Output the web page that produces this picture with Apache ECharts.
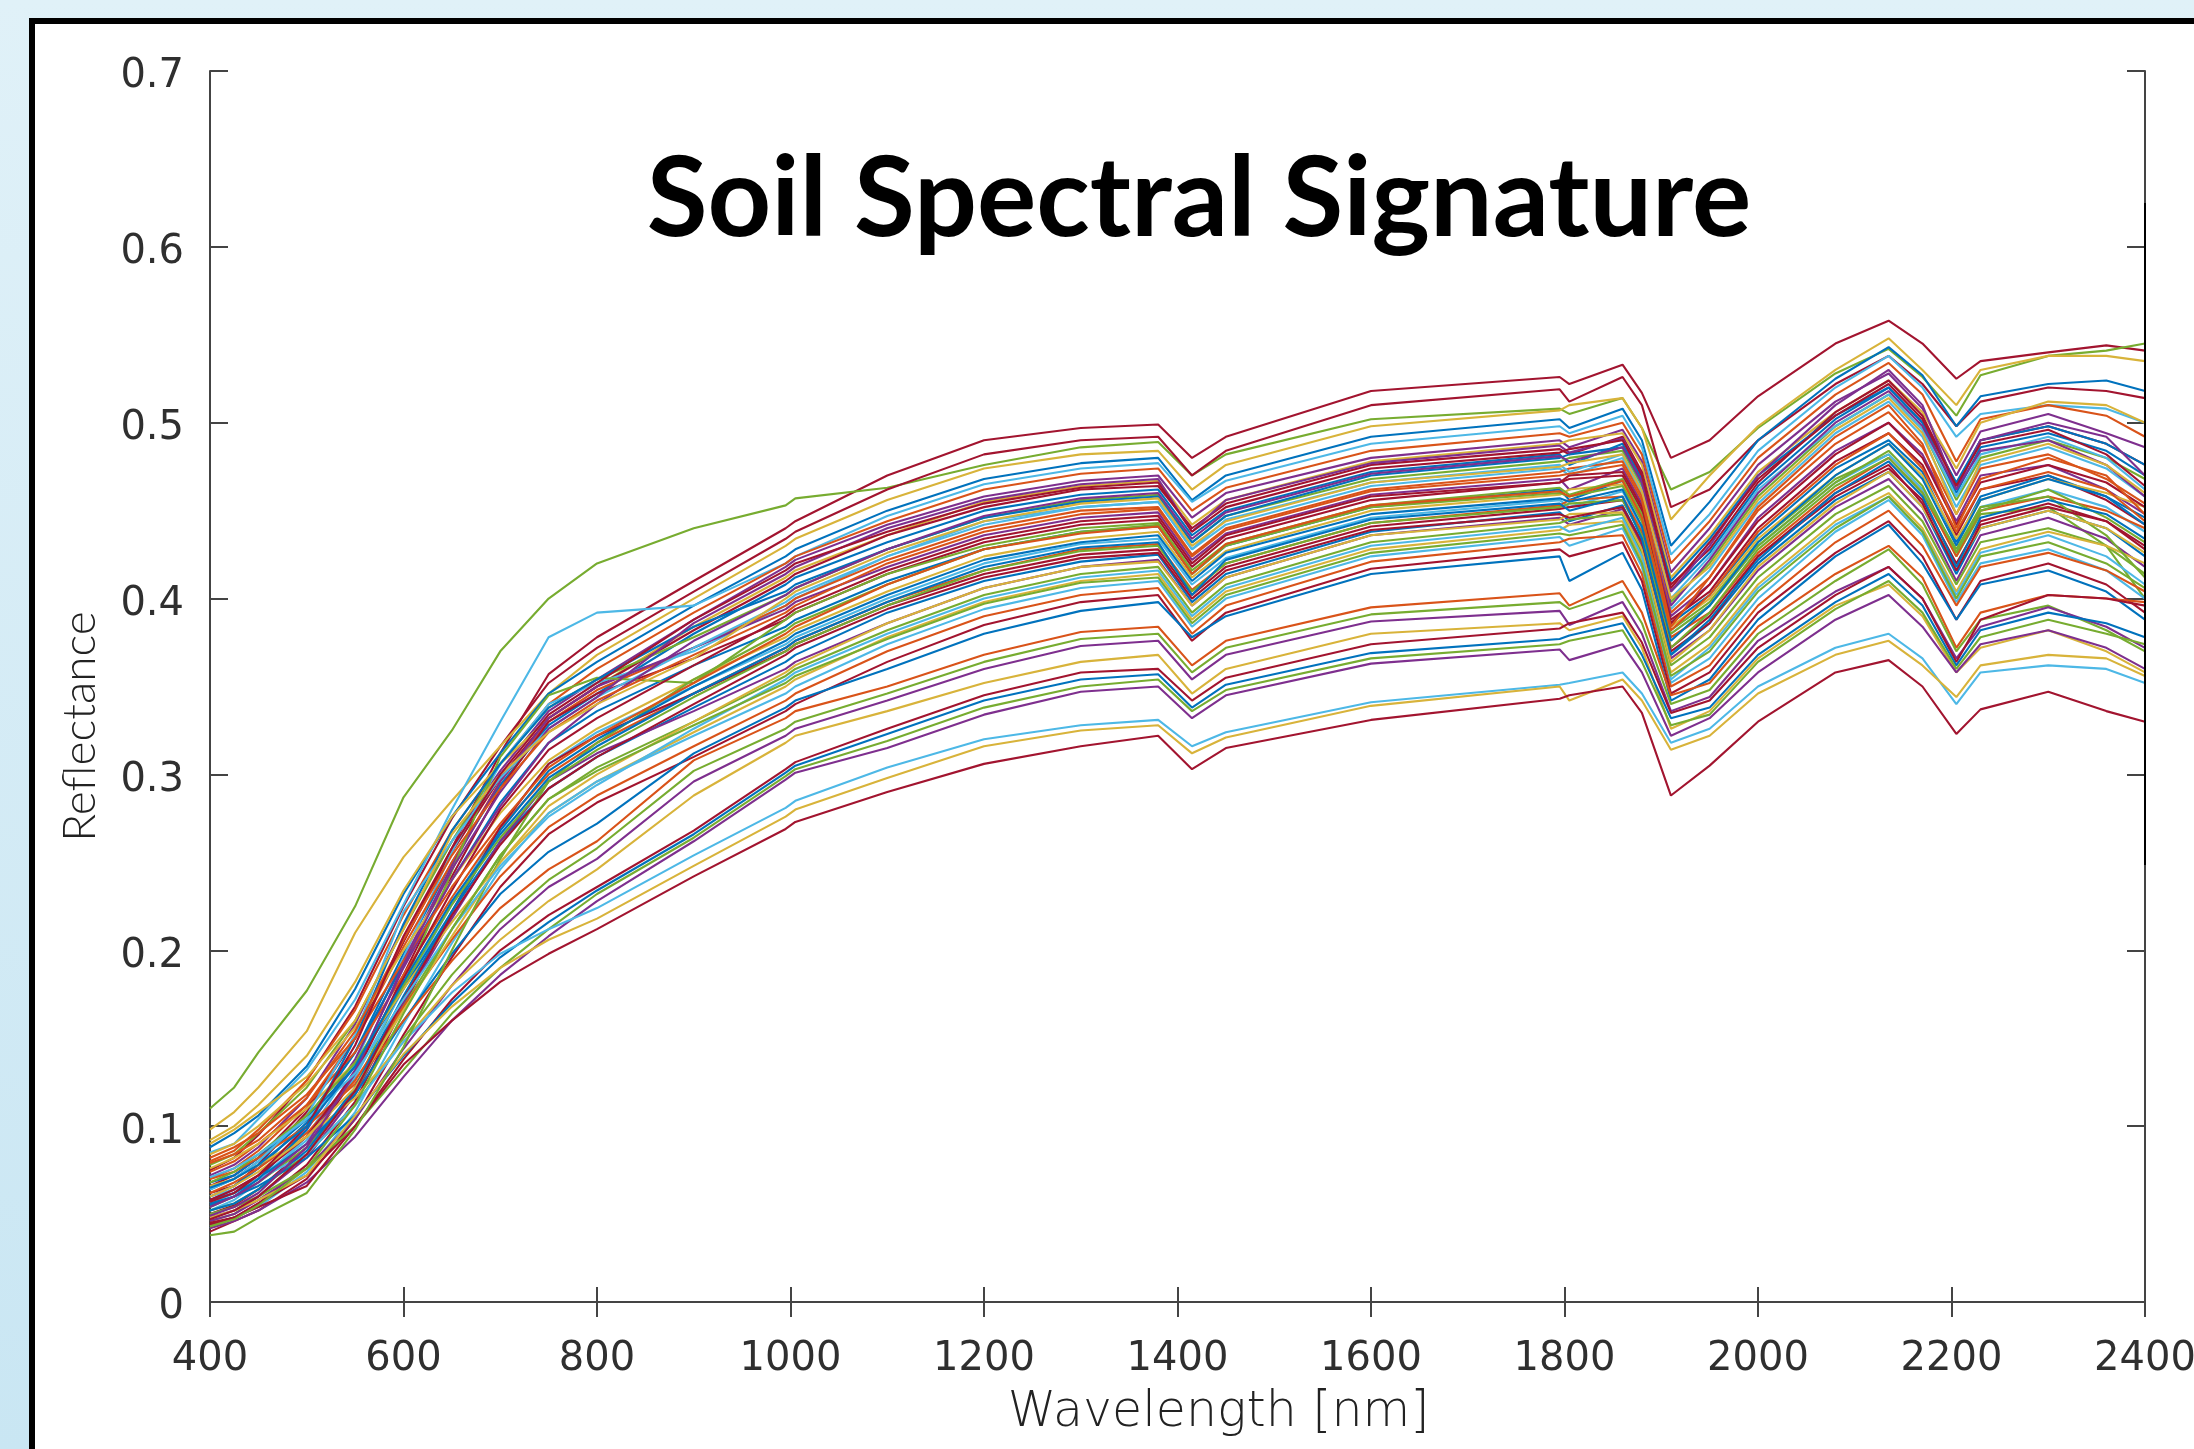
<!DOCTYPE html>
<html><head><meta charset="utf-8">
<script src="https://cdn.jsdelivr.net/npm/echarts@6/dist/echarts.min.js"></script>
<style>
html,body{margin:0;padding:0;width:2194px;height:1449px;overflow:hidden;background:linear-gradient(180deg,#e0f1f8 0%,#c9e6f3 100%);}
#frame{position:absolute;left:29px;top:18px;width:2165px;height:1431px;box-sizing:border-box;background:#fff;border-left:6px solid #000;border-top:6px solid #000;}
#chart{position:absolute;left:0;top:0;width:2194px;height:1449px;}
</style></head><body>
<div id="frame"></div><div id="chart"></div>
<script>
const wavelengths=[400,425,450,500,550,600,650,700,750,800,900,995,1005,1100,1200,1300,1380,1415,1450,1600,1795,1805,1860,1880,1910,1950,2000,2080,2135,2170,2205,2230,2300,2360,2400];
const xTicks=[400,600,800,1000,1200,1400,1600,1800,2000,2200,2400];
const yTicks=[0,0.1,0.2,0.3,0.4,0.5,0.6,0.7];
const s01=[.062,.066,.078,.108,.150,.205,.258,.312,.357,.378,.410,.440,.444,.470,.490,.497,.499,.480,.492,.518,.526,.522,.533,.517,.480,.490,.515,.545,.558,.545,.525,.535,.540,.544,.541];
const s02=[.110,.122,.142,.177,.225,.287,.325,.370,.400,.420,.440,.453,.457,.463,.476,.486,.489,.470,.482,.502,.508,.505,.514,.497,.462,.472,.497,.528,.542,.526,.504,.527,.538,.541,.545];
const s03=[.075,.082,.095,.126,.168,.225,.275,.316,.352,.372,.404,.434,.438,.462,.482,.490,.492,.470,.484,.510,.519,.512,.526,.510,.452,.462,.490,.522,.538,.522,.498,.512,.520,.518,.514];
const s04=[.098,.108,.122,.154,.210,.253,.285,.316,.346,.368,.400,.430,.434,.456,.474,.482,.484,.462,.476,.498,.507,.510,.514,.497,.445,.470,.498,.530,.548,.530,.510,.530,.538,.538,.535];
const s05=[.088,.096,.106,.134,.178,.232,.276,.312,.346,.364,.396,.424,.428,.450,.468,.477,.480,.456,.470,.492,.502,.497,.508,.490,.430,.455,.490,.525,.543,.527,.498,.515,.522,.524,.518];
const s06=[.085,.090,.104,.132,.172,.226,.280,.330,.378,.392,.396,.420,.424,.447,.465,.474,.477,.455,.467,.488,.498,.494,.504,.486,.425,.448,.484,.520,.538,.520,.492,.505,.510,.508,.500];
const s07=[.080,.086,.098,.126,.166,.220,.268,.306,.340,.360,.392,.420,.424,.444,.462,.471,.474,.450,.463,.484,.494,.492,.500,.482,.420,.444,.480,.516,.534,.516,.478,.502,.510,.504,.492];
const s08=[.072,.078,.088,.116,.158,.214,.262,.302,.336,.354,.388,.418,.422,.442,.458,.467,.470,.446,.460,.480,.490,.486,.496,.478,.415,.440,.476,.512,.528,.508,.470,.495,.505,.494,.486];
const s09=[.092,.100,.112,.140,.182,.234,.276,.306,.332,.350,.384,.412,.416,.436,.455,.464,.467,.442,.456,.478,.488,.490,.494,.476,.412,.436,.472,.506,.524,.506,.474,.500,.512,.510,.500];
const s10=[.066,.072,.082,.110,.150,.205,.256,.298,.332,.350,.382,.410,.414,.436,.452,.462,.464,.440,.454,.476,.485,.482,.492,.472,.408,.428,.466,.506,.524,.504,.465,.490,.498,.488,.476];
const s11=[.060,.066,.076,.102,.142,.198,.250,.294,.328,.346,.380,.408,.412,.432,.450,.459,.462,.436,.450,.472,.482,.476,.488,.468,.404,.426,.464,.502,.520,.500,.460,.486,.494,.484,.470];
const s12=[.078,.084,.096,.122,.160,.212,.262,.306,.338,.354,.378,.402,.406,.428,.446,.456,.459,.432,.447,.468,.478,.480,.484,.464,.398,.420,.458,.498,.516,.496,.456,.480,.490,.480,.468];
const s13=[.052,.058,.068,.094,.136,.196,.256,.306,.340,.352,.370,.396,.400,.424,.444,.452,.455,.428,.442,.464,.474,.470,.480,.460,.394,.416,.454,.494,.512,.492,.452,.476,.486,.474,.458];
const s14=[.070,.076,.086,.112,.150,.202,.250,.296,.330,.348,.372,.396,.400,.422,.440,.450,.452,.425,.440,.462,.472,.474,.478,.458,.392,.412,.450,.488,.506,.486,.448,.474,.482,.468,.454];
const s15=[.058,.064,.072,.098,.138,.194,.248,.296,.332,.350,.372,.394,.398,.418,.436,.446,.449,.422,.437,.459,.468,.462,.474,.454,.390,.408,.446,.484,.500,.482,.444,.470,.476,.462,.448];
const s16=[.050,.055,.064,.088,.128,.186,.242,.292,.330,.346,.366,.388,.392,.414,.432,.442,.445,.418,.434,.456,.466,.468,.470,.450,.388,.404,.440,.478,.494,.476,.436,.462,.470,.456,.442];
const s17=[.064,.070,.080,.104,.142,.192,.240,.284,.318,.336,.362,.384,.388,.410,.428,.438,.441,.414,.430,.452,.462,.456,.467,.447,.386,.402,.436,.474,.490,.472,.432,.458,.470,.458,.446];
const s18=[.084,.090,.100,.124,.156,.200,.240,.278,.308,.326,.354,.378,.382,.404,.424,.434,.438,.412,.427,.450,.459,.462,.465,.444,.384,.400,.434,.470,.488,.470,.434,.456,.468,.460,.452];
const s19=[.046,.050,.060,.084,.122,.180,.245,.310,.345,.355,.352,.388,.392,.414,.430,.440,.443,.416,.431,.453,.463,.459,.468,.448,.382,.398,.432,.468,.482,.462,.424,.448,.452,.430,.400];
const s20=[.056,.062,.070,.092,.128,.178,.226,.270,.306,.324,.350,.374,.378,.400,.420,.431,.434,.408,.423,.446,.456,.452,.461,.440,.380,.396,.430,.466,.482,.462,.426,.452,.462,.452,.438];
const s21=[.074,.080,.090,.112,.142,.186,.230,.270,.300,.318,.346,.372,.376,.398,.416,.428,.431,.405,.420,.443,.453,.456,.458,.438,.378,.392,.426,.462,.480,.460,.424,.450,.458,.450,.440];
const s22=[.044,.048,.056,.078,.114,.168,.222,.270,.306,.322,.346,.370,.374,.396,.414,.425,.428,.402,.418,.441,.451,.452,.456,.436,.372,.390,.424,.458,.474,.456,.420,.444,.454,.444,.428];
const s23=[.068,.072,.082,.104,.134,.178,.222,.262,.292,.310,.338,.364,.368,.392,.410,.421,.425,.398,.414,.438,.449,.444,.453,.432,.368,.386,.420,.456,.472,.452,.414,.440,.450,.440,.424];
const s24=[.048,.052,.060,.082,.118,.170,.218,.262,.296,.312,.336,.360,.364,.386,.406,.418,.422,.396,.412,.436,.446,.442,.451,.430,.366,.382,.416,.452,.468,.448,.410,.436,.446,.434,.418];
const s25=[.054,.060,.068,.088,.120,.168,.212,.254,.286,.304,.330,.356,.360,.382,.402,.414,.418,.392,.408,.432,.443,.445,.448,.426,.362,.378,.412,.448,.464,.444,.408,.432,.440,.430,.414];
const s26=[.076,.082,.090,.110,.136,.178,.216,.250,.278,.296,.324,.350,.354,.378,.398,.410,.414,.388,.404,.428,.439,.442,.444,.422,.358,.374,.408,.444,.460,.440,.404,.428,.438,.430,.420];
const s27=[.042,.048,.054,.074,.108,.158,.204,.246,.278,.296,.322,.346,.350,.374,.394,.406,.410,.384,.400,.424,.435,.430,.440,.418,.352,.366,.400,.438,.456,.436,.398,.420,.428,.416,.400];
const s28=[.062,.068,.076,.096,.126,.168,.206,.242,.270,.288,.316,.342,.346,.370,.390,.402,.406,.380,.396,.421,.432,.434,.436,.414,.350,.362,.396,.432,.450,.430,.396,.418,.426,.416,.404];
const s29=[.040,.046,.052,.070,.104,.152,.196,.236,.266,.284,.310,.336,.340,.364,.385,.398,.402,.376,.392,.417,.428,.424,.432,.410,.346,.358,.392,.426,.444,.424,.388,.410,.420,.408,.392];
const s30=[.058,.062,.070,.090,.118,.160,.198,.232,.256,.272,.312,.338,.342,.360,.380,.393,.398,.378,.390,.414,.424,.410,.426,.405,.342,.354,.388,.424,.442,.420,.388,.408,.416,.404,.388];
const s31=[.070,.074,.082,.100,.124,.160,.194,.224,.246,.262,.308,.332,.336,.350,.368,.381,.384,.362,.376,.395,.403,.396,.410,.392,.345,.352,.384,.414,.430,.412,.372,.392,.402,.400,.398];
const s32=[.052,.056,.064,.084,.112,.150,.186,.216,.240,.258,.302,.326,.330,.346,.364,.377,.380,.358,.372,.391,.398,.394,.404,.386,.340,.348,.380,.410,.428,.408,.370,.388,.396,.382,.370];
const s33=[.046,.050,.058,.076,.104,.144,.180,.212,.236,.252,.296,.322,.326,.342,.360,.373,.376,.354,.368,.387,.393,.385,.398,.380,.336,.344,.376,.404,.418,.400,.366,.384,.395,.384,.372];
const s34=[.066,.070,.078,.094,.116,.148,.180,.206,.228,.246,.288,.318,.322,.336,.352,.364,.368,.346,.360,.380,.386,.382,.390,.372,.326,.336,.366,.396,.408,.390,.358,.372,.382,.370,.358];
const s35=[.044,.048,.056,.072,.100,.138,.172,.200,.220,.236,.268,.303,.307,.326,.345,.358,.360,.342,.355,.374,.383,.386,.392,.375,.335,.342,.372,.402,.418,.400,.364,.388,.402,.400,.396];
const s36=[.056,.060,.066,.082,.106,.140,.170,.196,.216,.234,.266,.301,.305,.323,.342,.354,.357,.338,.351,.369,.377,.379,.386,.368,.332,.338,.368,.398,.414,.396,.362,.382,.392,.386,.378];
const s37=[.050,.054,.060,.076,.100,.132,.164,.190,.212,.232,.264,.299,.303,.319,.338,.350,.354,.336,.348,.366,.374,.376,.382,.364,.328,.334,.364,.394,.410,.392,.360,.378,.388,.380,.374];
const s38=[.042,.046,.052,.068,.094,.128,.160,.186,.208,.228,.262,.297,.301,.315,.334,.347,.350,.332,.345,.363,.371,.365,.374,.358,.322,.332,.358,.388,.402,.384,.358,.374,.382,.372,.360];
const s39=[.060,.064,.070,.084,.112,.148,.176,.198,.212,.224,.254,.281,.285,.304,.320,.328,.331,.316,.324,.341,.351,.352,.358,.346,.318,.326,.350,.372,.380,.366,.340,.358,.362,.360,.352];
const s40=[.048,.052,.058,.072,.106,.141,.168,.190,.206,.218,.248,.276,.280,.298,.316,.325,.328,.312,.321,.339,.350,.342,.354,.342,.314,.322,.346,.368,.376,.362,.344,.362,.368,.366,.356];
const s41=[.045,.048,.054,.066,.100,.135,.160,.182,.198,.212,.242,.269,.273,.290,.306,.316,.322,.303,.315,.331,.343,.345,.350,.335,.288,.305,.330,.358,.365,.350,.323,.337,.347,.336,.330];
const s42=[.038,.040,.048,.062,.098,.145,.200,.252,.296,.318,.354,.382,.386,.408,.428,.438,.442,.414,.430,.452,.460,.458,.464,.444,.380,.396,.430,.466,.484,.464,.426,.450,.462,.446,.432];
const s43=[.055,.060,.070,.098,.150,.215,.268,.306,.338,.354,.384,.404,.408,.428,.446,.455,.458,.432,.447,.470,.480,.482,.486,.466,.410,.434,.470,.504,.520,.500,.466,.490,.498,.488,.476];
const s44=[.064,.070,.080,.106,.152,.222,.262,.298,.326,.344,.372,.398,.402,.424,.442,.452,.455,.428,.445,.466,.476,.472,.482,.462,.400,.424,.462,.498,.516,.496,.458,.482,.492,.480,.462];
const s45=[.054,.060,.068,.090,.132,.190,.240,.282,.318,.340,.376,.402,.406,.428,.447,.457,.460,.434,.449,.471,.481,.478,.486,.466,.396,.422,.460,.500,.518,.498,.462,.484,.490,.476,.458];
const s46=[.058,.064,.072,.094,.130,.184,.234,.280,.314,.332,.362,.390,.394,.416,.434,.444,.447,.420,.436,.458,.466,.470,.472,.452,.386,.408,.444,.482,.500,.480,.442,.466,.476,.466,.452];
const s47=[.082,.088,.096,.118,.150,.194,.236,.272,.304,.322,.352,.380,.384,.408,.428,.437,.441,.414,.431,.453,.461,.458,.467,.446,.382,.402,.438,.476,.494,.474,.438,.462,.472,.462,.444];
const s48=[.052,.056,.064,.086,.122,.174,.222,.268,.302,.320,.350,.376,.380,.402,.422,.432,.436,.410,.426,.448,.457,.455,.462,.441,.376,.396,.432,.470,.488,.468,.430,.456,.468,.458,.442];
const s49=[.068,.074,.084,.106,.136,.180,.226,.264,.296,.314,.344,.370,.374,.396,.416,.427,.430,.404,.420,.443,.452,.454,.456,.436,.372,.392,.428,.464,.480,.460,.428,.452,.458,.436,.412];
const s50=[.060,.066,.074,.094,.122,.166,.208,.250,.282,.300,.330,.358,.362,.386,.406,.418,.421,.396,.412,.436,.445,.448,.449,.428,.364,.382,.418,.454,.472,.452,.418,.440,.450,.440,.426];
const s51=[.049,.054,.062,.088,.130,.192,.246,.290,.326,.344,.386,.414,.418,.440,.456,.465,.468,.438,.456,.477,.487,.483,.491,.470,.404,.430,.470,.510,.530,.510,.462,.490,.500,.492,.470];
const s52=[.079,.084,.092,.116,.154,.206,.254,.292,.324,.342,.368,.392,.396,.420,.438,.448,.451,.424,.439,.461,.470,.471,.476,.456,.384,.412,.452,.492,.510,.488,.440,.468,.480,.470,.448];
const s53=[.047,.052,.060,.084,.120,.172,.220,.260,.292,.310,.340,.368,.372,.394,.412,.423,.426,.400,.416,.439,.448,.446,.452,.432,.370,.386,.424,.460,.476,.454,.416,.442,.452,.444,.430];
const s54=[.071,.076,.084,.104,.130,.172,.212,.248,.276,.294,.326,.354,.358,.380,.400,.412,.416,.390,.406,.430,.441,.438,.446,.424,.354,.372,.406,.442,.458,.438,.402,.426,.436,.424,.408];
const s55=[.043,.047,.055,.076,.112,.164,.212,.254,.286,.302,.328,.352,.356,.377,.397,.409,.412,.386,.402,.426,.437,.436,.442,.420,.356,.370,.404,.440,.458,.438,.400,.424,.432,.420,.406];
const s56=[.090,.098,.108,.128,.160,.212,.266,.300,.324,.340,.366,.400,.404,.426,.444,.454,.457,.430,.444,.466,.475,.477,.482,.461,.400,.418,.456,.496,.514,.494,.448,.478,.488,.476,.460];
const s57=[.057,.062,.072,.100,.146,.208,.258,.300,.334,.352,.388,.416,.420,.438,.454,.463,.466,.438,.452,.474,.483,.485,.490,.470,.406,.432,.468,.504,.522,.502,.464,.488,.496,.482,.464];
const s58=[.065,.070,.078,.100,.134,.182,.228,.266,.298,.316,.346,.372,.376,.398,.418,.429,.432,.402,.422,.445,.454,.450,.458,.434,.368,.388,.422,.460,.478,.458,.418,.446,.456,.448,.434];
const curves=[s01,s02,s03,s04,s05,s06,s07,s08,s09,s10,s11,s12,s13,s14,s15,s16,s17,s18,s19,s20,s21,s22,s23,s24,s25,s26,s27,s28,s29,s30,s31,s32,s33,s34,s35,s36,s37,s38,s39,s40,s41,s42,s43,s44,s45,s46,s47,s48,s49,s50,s51,s52,s53,s54,s55,s56,s57,s58];
const maroon='#a2142f',blue='#0072bd',orange='#d95319',yellow='#d8b33a',purple='#7e2f8e',green='#77ac30',cyan='#4db8e6';
const curveColors=[maroon,green,maroon,yellow,blue,cyan,orange,purple,yellow,maroon,blue,green,cyan,orange,purple,maroon,blue,yellow,green,cyan,orange,maroon,blue,purple,green,yellow,cyan,orange,maroon,blue,orange,green,purple,yellow,maroon,blue,green,purple,cyan,yellow,maroon,green,blue,cyan,purple,maroon,orange,blue,green,yellow,purple,orange,maroon,cyan,green,yellow,maroon,blue];

const chart=echarts.init(document.getElementById('chart'),null,{renderer:'canvas'});
const axisInk='#444';
const labelFont={color:'#2f2f2f',fontFamily:'DejaVu Sans',fontSize:40};
chart.setOption({
  backgroundColor:'transparent',
  animation:false,
  title:{text:'Soil Spectral Signature',left:1194,top:140,textAlign:'center',textStyle:{fontFamily:'Lato',fontWeight:'bold',fontSize:111,color:'#000'}},
  grid:{left:210,right:49,top:71,bottom:147,containLabel:false,outerBoundsMode:'none'},
  xAxis:[
    {type:'value',min:400,max:2400,interval:200,position:'bottom',name:'Wavelength [nm]',nameLocation:'middle',nameGap:87,
     nameTextStyle:{fontFamily:'DejaVu Sans',fontSize:49,fontWeight:200,color:'#222',padding:[0,0,0,82]},
     splitLine:{show:false},axisLine:{lineStyle:{color:axisInk,width:2}},axisTick:{inside:true,length:15,lineStyle:{color:axisInk,width:2}},
     axisLabel:Object.assign({margin:38,showMinLabel:true,showMaxLabel:true,hideOverlap:false,customValues:xTicks,formatter:v=>String(v)},labelFont)},
    {type:'value',min:400,max:2400,interval:200,position:'top',splitLine:{show:false},axisLine:{lineStyle:{color:axisInk,width:2}},axisTick:{inside:true,length:15,lineStyle:{color:axisInk,width:2}},axisLabel:{show:false}}
  ],
  yAxis:[
    {type:'value',min:0,max:0.7,interval:0.1,position:'left',name:'Reflectance',nameLocation:'middle',nameGap:107,nameRotate:90,
     nameTextStyle:{fontFamily:'Lato',fontSize:46,fontWeight:300,color:'#222',padding:[0,80,0,0]},
     splitLine:{show:false},axisLine:{lineStyle:{color:axisInk,width:2}},axisTick:{inside:true,length:18,lineStyle:{color:axisInk,width:2}},
     axisLabel:Object.assign({margin:26,verticalAlign:'top',lineHeight:12,formatter:v=>String(+v.toFixed(1)),customValues:yTicks},labelFont)},
    {type:'value',min:0,max:0.7,interval:0.1,position:'right',splitLine:{show:false},axisLine:{lineStyle:{color:axisInk,width:2}},axisTick:{inside:true,length:18,lineStyle:{color:axisInk,width:2}},axisLabel:{show:false}}
  ],
  graphic:[{type:'line',z:100,shape:{x1:2145,y1:203,x2:2145,y2:865},style:{stroke:'#000',lineWidth:2}}],
  series:curves.map((c,i)=>({type:'line',xAxisIndex:0,yAxisIndex:0,showSymbol:false,smooth:false,
    lineStyle:{width:2.1,color:curveColors[i]},itemStyle:{color:curveColors[i]},data:wavelengths.map((w,j)=>[w,c[j]])}))
});
</script></body></html>
